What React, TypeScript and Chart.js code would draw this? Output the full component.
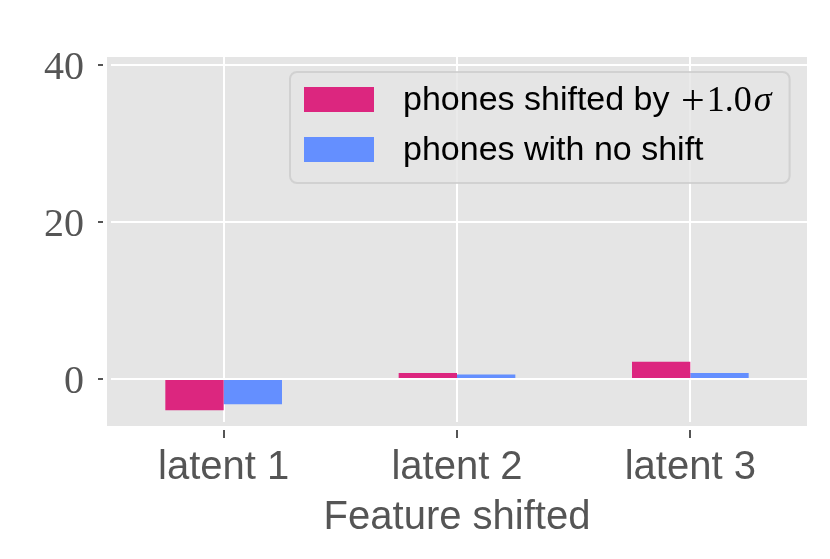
import React, { useEffect, useRef } from 'react';
import { Chart, registerables } from 'chart.js';

Chart.register(...registerables);

const categories = ['latent 1', 'latent 2', 'latent 3'];
const shiftedValues = [-4.0, 0.74, 2.19];
const noShiftValues = [-3.24, 0.57, 0.74];
const yTickValues = [0, 20, 40];
const seriesLabels = ['phones shifted by +1.0σ', 'phones with no shift'];
const legendTextParts = ['phones shifted by ', '+', '1.0', 'σ'];
const xAxisTitle = 'Feature shifted';
const seriesColors = ['#DC267F', '#648FFF'];

const backgroundPlugin = {
  id: 'plotBackground',
  beforeDraw(chart: any) {
    const { ctx, chartArea: a } = chart;
    ctx.save();
    ctx.fillStyle = '#E5E5E5';
    ctx.fillRect(a.left, a.top, a.right - a.left, a.bottom - a.top);
    ctx.restore();
  },
};

const legendPlugin = {
  id: 'boxLegend',
  afterDraw(chart: any) {
    const { ctx, chartArea: a } = chart;
    const fs = 34;
    const sans = `${fs}px "Liberation Sans"`;
    const plusFont = `42px "Liberation Serif"`;
    const serif = `36px "Liberation Serif"`;
    const serifIt = `italic 36px "Liberation Serif"`;
    ctx.save();
    const patchW = 70;
    const patchH = 25;
    const padL = 14;
    const gap = 29;
    const padR = 18;
    const boxH = 111;
    const left = a.left + 183;
    const top = a.top + 15;

    ctx.font = sans;
    const w0 = ctx.measureText(legendTextParts[0]).width;
    const plusAdv = fs * 0.82;
    ctx.font = serif;
    const w2 = ctx.measureText(legendTextParts[2]).width + 2;
    ctx.font = serifIt;
    const w3 = ctx.measureText(legendTextParts[3]).width;
    const row0 = w0 + plusAdv + w2 + w3;
    ctx.font = sans;
    const row1 = ctx.measureText(seriesLabels[1]).width;
    const textW = Math.max(row0, row1);
    const boxW = padL + patchW + gap + textW + padR;

    const r = 7;
    ctx.beginPath();
    ctx.moveTo(left + r, top);
    ctx.lineTo(left + boxW - r, top);
    ctx.arcTo(left + boxW, top, left + boxW, top + r, r);
    ctx.lineTo(left + boxW, top + boxH - r);
    ctx.arcTo(left + boxW, top + boxH, left + boxW - r, top + boxH, r);
    ctx.lineTo(left + r, top + boxH);
    ctx.arcTo(left, top + boxH, left, top + boxH - r, r);
    ctx.lineTo(left, top + r);
    ctx.arcTo(left, top, left + r, top, r);
    ctx.closePath();
    ctx.fillStyle = 'rgba(229,229,229,0.8)';
    ctx.fill();
    ctx.strokeStyle = 'rgba(204,204,204,0.8)';
    ctx.lineWidth = 2;
    ctx.stroke();

    const rowCenters = [top + 27.5, top + 77.5];
    chart.data.datasets.forEach((ds: any, i: number) => {
      const cy = rowCenters[i];
      ctx.fillStyle = ds.backgroundColor;
      ctx.fillRect(left + padL, cy - patchH / 2, patchW, patchH);
      const tx = left + padL + patchW + gap;
      const by = cy + 10.5;
      ctx.fillStyle = '#000';
      ctx.textBaseline = 'alphabetic';
      ctx.textAlign = 'left';
      if (i === 0) {
        ctx.font = sans;
        ctx.fillText(legendTextParts[0], tx, by);
        let x = tx + w0;
        ctx.font = plusFont;
        const pw = ctx.measureText(legendTextParts[1]).width;
        ctx.fillText(legendTextParts[1], x + (plusAdv - pw) / 2, by + 4);
        x += plusAdv;
        ctx.font = serif;
        ctx.fillText(legendTextParts[2], x, by + 1);
        x += w2;
        ctx.font = serifIt;
        ctx.fillText(legendTextParts[3], x, by + 1);
      } else {
        ctx.font = sans;
        ctx.fillText(seriesLabels[i], tx, by);
      }
    });
    ctx.restore();
  },
};

export default function App() {
  const canvasRef = useRef<HTMLCanvasElement | null>(null);

  useEffect(() => {
    const canvas = canvasRef.current;
    if (!canvas) return;
    const chart = new Chart(canvas, {
      type: 'bar',
      data: {
        labels: categories,
        datasets: [
          {
            label: seriesLabels[0],
            data: shiftedValues,
            backgroundColor: seriesColors[0],
            categoryPercentage: 0.5,
            barPercentage: 1.0,
          },
          {
            label: seriesLabels[1],
            data: noShiftValues,
            backgroundColor: seriesColors[1],
            categoryPercentage: 0.5,
            barPercentage: 1.0,
          },
        ],
      },
      options: {
        responsive: false,
        animation: false,
        devicePixelRatio: 1,
        layout: { padding: { top: 57, right: 23, left: 0, bottom: 0 } },
        plugins: {
          legend: { display: false },
          tooltip: { enabled: false },
        },
        scales: {
          x: {
            offset: true,
            grid: {
              offset: false,
              color: '#FFFFFF',
              lineWidth: 2,
              tickColor: '#555555',
              tickWidth: 2,
              tickLength: 12,
            },
            border: { display: true, color: 'rgba(0,0,0,0)', width: 8 },
            ticks: {
              color: '#555555',
              font: { family: '"Liberation Sans"', size: 40 },
              padding: 6,
              maxRotation: 0,
            },
            title: {
              display: true,
              text: xAxisTitle,
              color: '#555555',
              font: { family: '"Liberation Sans"', size: 40 },
              padding: { top: 0, bottom: 17 },
            },
            afterFit(scale: any) {
              scale.height = 133;
            },
          },
          y: {
            min: -6,
            max: 41,
            afterBuildTicks(scale: any) {
              scale.ticks = yTickValues.map((v) => ({ value: v }));
            },
            grid: {
              color: '#FFFFFF',
              lineWidth: 2,
              tickColor: '#555555',
              tickWidth: 2,
              tickLength: 9,
            },
            border: { display: true, color: 'rgba(0,0,0,0)', width: 8 },
            ticks: {
              color: '#555555',
              font: { family: '"Liberation Serif"', size: 40 },
              padding: 14,
              labelOffset: 4,
            },
            afterFit(scale: any) {
              scale.width = 107;
            },
          },
        },
      },
      plugins: [backgroundPlugin, legendPlugin],
    });
    return () => chart.destroy();
  }, []);

  return (
    <div style={{ position: 'fixed', left: 0, top: 0, width: 830, height: 559, background: '#fff' }}>
      <canvas ref={canvasRef} width={830} height={559} style={{ display: 'block' }} />
    </div>
  );
}
